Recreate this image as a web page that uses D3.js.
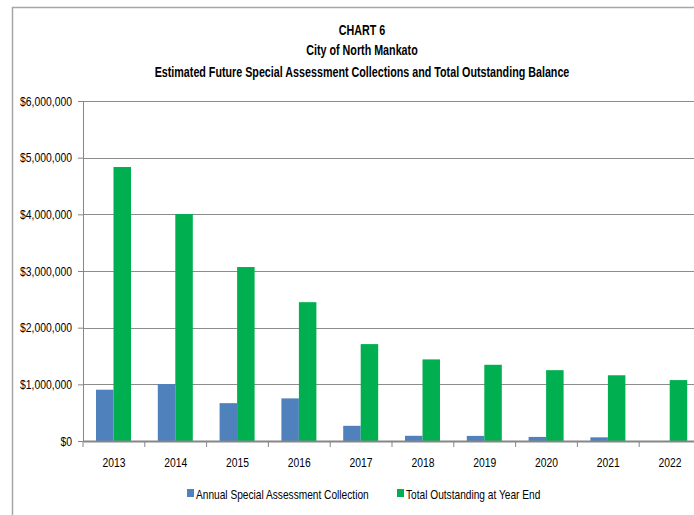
<!DOCTYPE html>
<html>
<head>
<meta charset="utf-8">
<script src="https://cdn.jsdelivr.net/npm/d3@7"></script>
<style>
  body { margin: 0; background: #fff; }
  text { font-family: "Liberation Sans", Arial, sans-serif; fill: #000; }
</style>
</head>
<body>
<div id="chart"></div>
<script>
// chart data
var years = ["2013", "2014", "2015", "2016", "2017", "2018", "2019", "2020", "2021", "2022"];
var annual = [905000, 1005000, 668000, 752000, 268000, 92000, 90000, 72000, 65000, 0];
var outstanding = [4835000, 4005000, 3070000, 2450000, 1710000, 1440000, 1345000, 1250000, 1160000, 1075000];
var yTicks = [0, 1000000, 2000000, 3000000, 4000000, 5000000, 6000000];
var seriesNames = ["Annual Special Assessment Collection", "Total Outstanding at Year End"];
var seriesColors = ["#4F81BD", "#00B050"];

var W = 694, H = 515;
var margin = {left: 83, top: 101, right: -7, bottom: 74};
var width = W - margin.left - margin.right,
    height = H - margin.top - margin.bottom;

// narrow the text horizontally (no condensed font available)
function squeeze(sel, f) {
	sel.each(function() {
		var t = d3.select(this);
		var x0 = +t.attr("x") || 0;
		t.attr("x", x0 / f).attr("transform", "scale(" + f + ",1)");
	});
}

var svg = d3.select("#chart").append("svg")
    .attr("width", W)
    .attr("height", H);

// outer chart frame
svg.append("rect")
    .attr("x", 12.5).attr("y", 7.5)
    .attr("width", W + 20).attr("height", H + 20)
    .attr("fill", "none")
    .attr("stroke", "#a6a6a6")
    .attr("stroke-width", 1.5);

// titles
var titles = ["CHART 6", "City of North Mankato", "Estimated Future Special Assessment Collections and Total Outstanding Balance"];
var titleY = [35, 55, 77];
var titleText = svg.selectAll(".title")
    .data(titles)
  .enter().append("text")
    .attr("class", "title")
    .attr("x", 362)
    .attr("y", function(d, i) { return titleY[i]; })
    .attr("text-anchor", "middle")
    .style("font-size", "15px")
    .style("font-weight", "bold")
    .text(function(d) { return d; });

squeeze(titleText, 415 / titleText.nodes()[2].getComputedTextLength());

var g = svg.append("g")
    .attr("transform", "translate(" + margin.left + "," + margin.top + ")");

var x = d3.scaleBand()
    .domain(years)
    .range([0, width])
    .paddingInner(0)
    .paddingOuter(0);

var x1 = d3.scaleBand()
    .domain([0, 1])
    .range([13, 13 + 35]);

var y = d3.scaleLinear()
    .domain([0, 6000000])
    .range([height, 0]);

// gridlines
g.selectAll(".grid")
    .data(yTicks.slice(1))
  .enter().append("line")
    .attr("class", "grid")
    .attr("x1", 0).attr("x2", width)
    .attr("y1", function(d) { return Math.round(y(d)) + 0.5; })
    .attr("y2", function(d) { return Math.round(y(d)) + 0.5; })
    .attr("stroke", "#8c8c8c")
    .attr("stroke-width", 1);

// bars
var data = years.map(function(yr, i) { return {year: yr, values: [annual[i], outstanding[i]]}; });

var groups = g.selectAll(".yr")
    .data(data)
  .enter().append("g")
    .attr("class", "yr")
    .attr("transform", function(d) { return "translate(" + x(d.year) + ",0)"; });

groups.selectAll("rect")
    .data(function(d) { return d.values.map(function(v, k) { return {k: k, v: v}; }); })
  .enter().append("rect")
    .attr("x", function(d) { return x1(d.k); })
    .attr("width", x1.bandwidth())
    .attr("y", function(d) { return y(d.v); })
    .attr("height", function(d) { return height - y(d.v); })
    .attr("fill", function(d) { return seriesColors[d.k]; });

// legend
var legendX = [187, 397];
var legend = svg.selectAll(".legend")
    .data(seriesNames)
  .enter().append("g")
    .attr("class", "legend")
    .attr("transform", function(d, i) { return "translate(" + legendX[i] + ",489)"; });

legend.append("rect")
    .attr("width", 7).attr("height", 8)
    .attr("fill", function(d, i) { return seriesColors[i]; });

var legendText = legend.append("text")
    .attr("x", 9)
    .attr("y", 10)
    .style("font-size", "12.5px")
    .text(function(d) { return d; });

squeeze(legendText, 173 / legendText.nodes()[0].getComputedTextLength());

// y axis
var yAxis = d3.axisLeft(y)
    .tickValues(yTicks)
    .tickSize(5)
    .tickPadding(6)
    .tickFormat(function(d) { return "$" + d3.format(",")(d); });

var ya = g.append("g").attr("class", "y axis").call(yAxis);
ya.select(".domain").attr("stroke", "#868686");
ya.selectAll(".tick line").attr("stroke", "#868686");
var yText = ya.selectAll("text").style("font-size", "12.5px").style("font-family", null);
squeeze(yText, 52 / yText.nodes()[1].getComputedTextLength());

// x axis
var xAxis = d3.axisBottom(x)
    .tickSize(0)
    .tickPadding(16);

var xa = g.append("g").attr("class", "x axis")
    .attr("transform", "translate(0," + height + ")")
    .call(xAxis);
xa.select(".domain").attr("stroke", "#868686").attr("stroke-width", 2);
var xText = xa.selectAll("text").style("font-size", "13.5px").style("font-family", null);
squeeze(xText, 23 / xText.nodes()[0].getComputedTextLength());

// category separator ticks
xa.selectAll(".sep")
    .data(years)
  .enter().append("line")
    .attr("class", "sep")
    .attr("x1", function(d) { return x(d); })
    .attr("x2", function(d) { return x(d); })
    .attr("y1", 0).attr("y2", 6)
    .attr("stroke", "#868686");
</script>
</body>
</html>
